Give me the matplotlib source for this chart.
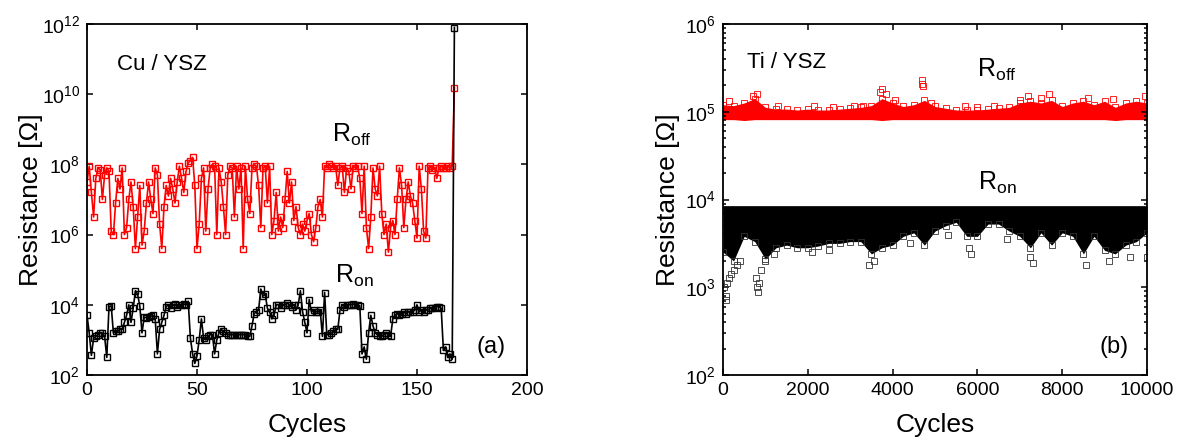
import numpy as np
import matplotlib
matplotlib.use('Agg')
import matplotlib.pyplot as plt
from matplotlib.ticker import LogLocator, FixedLocator, NullLocator

plt.rcParams['font.family'] = ['Liberation Sans', 'DejaVu Sans']
plt.rcParams['mathtext.fontset'] = 'custom'
plt.rcParams['mathtext.rm'] = 'Liberation Sans'
plt.rcParams['mathtext.it'] = 'Liberation Sans:italic'
plt.rcParams['mathtext.bf'] = 'Liberation Sans:bold'

# ---------------- (a) Cu / YSZ : log10 of resistance per cycle ----------------
cu_roff_log = [
    7.5, 7.95, 7.2, 6.5, 7.6, 7.9, 7.85, 7.0, 7.7, 7.9,
    7.8, 6.1, 6.0, 6.9, 7.6, 7.3, 7.9, 6.0, 6.2, 7.0,
    7.5, 6.8, 5.6, 6.5, 7.4, 5.7, 6.1, 6.9, 7.5, 7.0,
    6.6, 7.9, 7.7, 6.3, 5.6, 6.8, 7.4, 7.1, 7.6, 7.3,
    6.9, 7.5, 7.95, 7.6, 7.2, 7.8, 8.05, 8.1, 8.2, 7.4,
    5.6, 6.3, 7.6, 7.9, 6.1, 7.3, 7.9, 8.0, 7.95, 6.0,
    7.9, 7.5, 6.8, 6.0, 7.7, 7.95, 7.9, 6.5, 7.95, 7.3,
    7.9, 5.6, 7.95, 7.0, 6.6, 7.9, 8.0, 7.95, 7.4, 6.2,
    7.9, 7.95, 6.9, 7.95, 6.0, 6.4, 7.2, 6.1, 6.5, 6.2,
    7.0, 7.8, 6.9, 7.5, 6.4, 6.8, 6.2, 6.0, 6.3, 6.1,
    6.4, 6.6, 6.0, 5.8, 6.2, 6.8, 7.0, 6.5, 7.95, 7.9,
    8.0, 7.95, 7.9, 7.95, 7.4, 7.9, 7.95, 7.2, 7.9, 7.8,
    7.3, 7.95, 7.9, 7.95, 7.6, 6.6, 7.95, 6.2, 5.6, 6.5,
    7.9, 7.3, 7.1, 7.95, 6.6, 6.0, 6.3, 5.5, 6.2, 6.4,
    6.0, 7.0, 7.9, 7.4, 6.2, 7.0, 7.5, 7.1, 6.9, 6.4,
    5.9, 7.95, 7.3, 6.1, 5.9, 7.9, 7.95, 7.85, 7.9, 7.6,
    7.9, 7.95, 7.9, 7.9, 7.95, 7.9, 7.95, 10.18,
]
cu_ron_log = [
    3.71, 3.2, 2.56, 3.05, 3.1, 3.15, 3.2, 3.2, 3.1, 2.5,
    3.95, 3.97, 3.2, 3.25, 3.25, 3.3, 3.3, 3.5, 3.7, 4.0,
    3.5, 3.9, 4.4, 4.3, 3.97, 3.2, 3.65, 3.63, 3.65, 3.67,
    3.7, 3.6, 2.6, 3.3, 3.5, 3.7, 3.95, 4.0, 3.9, 4.0,
    4.02, 3.95, 4.0, 4.0, 4.02, 4.0, 4.1, 3.05, 2.6, 2.33,
    2.55, 3.0, 3.6, 3.05, 3.0, 3.1, 3.15, 3.15, 2.6, 3.0,
    3.2, 3.3, 3.25, 3.2, 3.15, 3.15, 3.15, 3.15, 3.15, 3.15,
    3.15, 3.15, 3.15, 3.1, 3.1, 3.4, 3.75, 3.8, 3.85, 4.45,
    4.25, 4.3, 3.9, 3.8, 3.6, 3.7, 4.0, 4.0, 3.9, 4.0,
    4.0, 4.05, 4.0, 3.95, 4.0, 3.85, 4.0, 4.4, 3.8, 3.5,
    3.2, 4.15, 3.8, 3.85, 3.8, 3.8, 3.85, 3.1, 4.35, 3.15,
    3.15, 3.2, 3.25, 3.3, 3.3, 3.85, 4.0, 3.95, 4.0, 4.0,
    4.0, 4.02, 4.0, 4.0, 3.97, 2.6, 2.8, 2.45, 3.2, 3.7,
    3.4, 3.2, 3.15, 3.1, 3.1, 3.15, 3.2, 3.15, 3.1, 3.6,
    3.7, 3.75, 3.7, 3.75, 3.8, 3.75, 3.8, 3.8, 3.8, 3.85,
    4.0, 3.8, 3.85, 3.8, 3.85, 3.85, 3.9, 3.9, 3.9, 3.95,
    3.95, 3.9, 2.7, 2.8, 2.5, 2.6, 2.45, 11.9,
]

# ---------------- (b) Ti / YSZ : band envelopes (log10) read every 250 cycles ----------------
ti_cycles = [0, 250, 500, 750, 1000, 1250, 1500, 1750, 2000, 2250,
             2500, 2750, 3000, 3250, 3500, 3750, 4000, 4250, 4500, 4750,
             5000, 5250, 5500, 5750, 6000, 6250, 6500, 6750, 7000, 7250,
             7500, 7750, 8000, 8250, 8500, 8750, 9000, 9250, 9500, 9750, 10000]
ti_roff_top = [5.08, 5.07, 5.10, 5.15, 5.05, 5.03, 5.03, 5.02, 5.03, 5.02,
               5.02, 5.03, 5.04, 5.05, 5.07, 5.15, 5.10, 5.06, 5.08, 5.13,
               5.06, 5.04, 5.02, 5.02, 5.02, 5.03, 5.04, 5.05, 5.10, 5.12,
               5.10, 5.13, 5.06, 5.10, 5.12, 5.08, 5.12, 5.05, 5.10, 5.12, 5.10]
ti_roff_bot = [4.91, 4.91, 4.90, 4.91, 4.91, 4.91, 4.91, 4.91, 4.91, 4.91,
               4.91, 4.91, 4.91, 4.91, 4.91, 4.90, 4.91, 4.91, 4.91, 4.91,
               4.91, 4.91, 4.91, 4.91, 4.91, 4.91, 4.91, 4.91, 4.91, 4.91,
               4.91, 4.91, 4.91, 4.91, 4.91, 4.91, 4.91, 4.90, 4.91, 4.91, 4.91]
ti_ron_top = [3.93, 3.93, 3.93, 3.93, 3.93, 3.93, 3.93, 3.93, 3.93, 3.93,
              3.93, 3.93, 3.93, 3.93, 3.93, 3.93, 3.93, 3.93, 3.93, 3.93,
              3.93, 3.93, 3.93, 3.93, 3.93, 3.93, 3.93, 3.93, 3.93, 3.93,
              3.93, 3.93, 3.93, 3.93, 3.93, 3.93, 3.93, 3.93, 3.93, 3.93, 3.93]
ti_ron_bot = [3.40, 3.30, 3.58, 3.52, 3.32, 3.45, 3.48, 3.45, 3.45, 3.47,
              3.50, 3.50, 3.52, 3.52, 3.38, 3.45, 3.48, 3.58, 3.62, 3.48,
              3.64, 3.70, 3.74, 3.58, 3.58, 3.72, 3.72, 3.64, 3.58, 3.45,
              3.62, 3.48, 3.62, 3.58, 3.38, 3.58, 3.42, 3.38, 3.48, 3.52, 3.62]

# scattered squares outside the dense bands
ti_roff_out_x = [150, 700, 800, 1300, 2150, 2600, 3100, 3300, 3700, 3750, 3850, 4050,
                 4700, 4700, 4720, 4900, 5700, 6000, 6400, 7000, 7200, 7500, 7700, 8600, 9200, 9950]
ti_roff_out_y = [5.12, 5.18, 5.20, 5.07, 5.06, 5.05, 5.07, 5.06, 5.22, 5.26, 5.20, 5.13,
                 5.36, 5.32, 5.29, 5.10, 5.06, 5.05, 5.07, 5.13, 5.18, 5.16, 5.20, 5.16, 5.14, 5.18]
ti_ron_out_x = [30, 60, 80, 100, 150, 200, 250, 320, 400, 780, 800, 820, 850, 900, 1000, 1200,
                2100, 2500, 3450, 3550, 4400, 5300, 5800, 5850, 6700, 7250, 7300, 8550, 9100, 9600, 10000]
ti_ron_out_y = [3.00, 2.90, 2.85, 3.05, 3.10, 3.15, 3.20, 3.25, 3.30, 3.10, 3.00, 2.95, 3.05, 3.20, 3.30, 3.38,
                3.40, 3.42, 3.25, 3.30, 3.50, 3.60, 3.45, 3.38, 3.55, 3.35, 3.28, 3.25, 3.30, 3.35, 3.35]

fig = plt.figure(figsize=(11.87, 4.42), dpi=100)
ax1 = fig.add_axes([87 / 1187, 1 - 375 / 442, 440 / 1187, 351 / 442])
ax2 = fig.add_axes([723 / 1187, 1 - 375 / 442, 424 / 1187, 351 / 442])

# panel (a)
cyc = np.arange(len(cu_roff_log))
ax1.plot(cyc, 10 ** np.array(cu_roff_log), '-s', color='red', lw=1.2,
         ms=3.8, mfc='none', mew=1.0)
ax1.plot(cyc, 10 ** np.array(cu_ron_log), '-s', color='black', lw=1.2,
         ms=3.8, mfc='none', mew=1.0)
ax1.set_yscale('log')
ax1.set_xlim(0, 200)
ax1.set_ylim(1e2, 1e12)
ax1.xaxis.set_major_locator(FixedLocator([0, 50, 100, 150, 200]))
ax1.yaxis.set_major_locator(FixedLocator([1e2, 1e4, 1e6, 1e8, 1e10, 1e12]))
ax1.yaxis.set_minor_locator(NullLocator())

# panel (b)
tx = np.array(ti_cycles)
ax2.fill_between(tx, 10 ** np.array(ti_roff_bot), 10 ** np.array(ti_roff_top),
                 color='red', lw=0)
ax2.plot(tx, 10 ** np.array(ti_roff_top), 's', color='red', ms=4, mfc='none', mew=0.6)
ax2.plot(ti_roff_out_x, 10 ** np.array(ti_roff_out_y), 's', color='red', ms=4, mfc='none', mew=0.6)
ax2.fill_between(tx, 10 ** np.array(ti_ron_bot), 10 ** np.array(ti_ron_top),
                 color='black', lw=0)
ax2.plot(tx, 10 ** np.array(ti_ron_bot), 's', color='#333333', ms=4, mfc='none', mew=0.6)
ax2.plot(ti_ron_out_x, 10 ** np.array(ti_ron_out_y), 's', color='#333333', ms=4, mfc='none', mew=0.6)
ax2.set_yscale('log')
ax2.set_xlim(0, 10000)
ax2.set_ylim(1e2, 1e6)
ax2.xaxis.set_major_locator(FixedLocator([0, 2000, 4000, 6000, 8000, 10000]))
ax2.yaxis.set_major_locator(FixedLocator([1e2, 1e3, 1e4, 1e5, 1e6]))
ax2.yaxis.set_minor_locator(LogLocator(base=10, subs=np.arange(2, 10), numticks=20))

for ax in (ax1, ax2):
    for s in ax.spines.values():
        s.set_linewidth(1.3)
    ax.tick_params(which='both', direction='in', top=True, right=True, labelsize=14, width=1.1)
    ax.tick_params(which='major', length=4, pad=5)
    ax.tick_params(which='minor', length=2)
    ax.set_xlabel('Cycles', fontsize=19, labelpad=10)
ax1.set_ylabel('Resistance [\u03a9]', fontsize=19, labelpad=-1)
ax2.set_ylabel('Resistance [\u03a9]', fontsize=19, labelpad=4)

ax1.text(0.068, 0.886, 'Cu / YSZ', transform=ax1.transAxes, fontsize=16, va='center')
ax1.text(0.557, 0.684, r'R$_{\rm off}$', transform=ax1.transAxes, fontsize=18, va='center')
ax1.text(0.564, 0.282, r'R$_{\rm on}$', transform=ax1.transAxes, fontsize=18, va='center')
ax1.text(0.886, 0.08, '(a)', transform=ax1.transAxes, fontsize=17, va='center')

ax2.text(0.057, 0.889, 'Ti / YSZ', transform=ax2.transAxes, fontsize=16, va='center')
ax2.text(0.599, 0.869, r'R$_{\rm off}$', transform=ax2.transAxes, fontsize=18, va='center')
ax2.text(0.601, 0.547, r'R$_{\rm on}$', transform=ax2.transAxes, fontsize=18, va='center')
ax2.text(0.889, 0.08, '(b)', transform=ax2.transAxes, fontsize=17, va='center')

fig.savefig('out.png', dpi=100)
